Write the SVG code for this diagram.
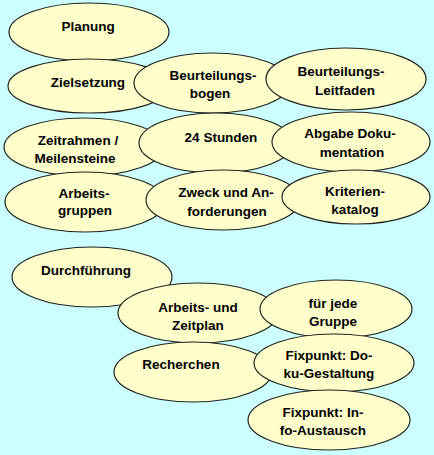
<svg xmlns="http://www.w3.org/2000/svg" width="434" height="455" viewBox="0 0 434 455">
<style>
.bg{fill:#ccffff}
ellipse{fill:#ffffcc;stroke:#222;stroke-width:1.2}
text{font-family:"Liberation Sans",Arial,sans-serif;font-weight:bold;font-size:13.5px;fill:#000;text-anchor:middle}
</style>
<rect class="bg" x="0" y="0" width="434" height="455"/>
<g id="n-planung"><ellipse cx="89" cy="32" rx="80" ry="29"/><text x="88" y="31">Planung</text></g>
<g id="n-zielsetzung"><ellipse cx="89" cy="86" rx="81" ry="27"/><text x="88" y="87">Zielsetzung</text></g>
<g id="n-bogen"><ellipse cx="212" cy="83" rx="78" ry="30"/><text x="213" y="80">Beurteilungs-</text><text x="210" y="98">bogen</text></g>
<g id="n-leitfaden"><ellipse cx="346" cy="79" rx="80" ry="31"/><text x="341" y="76">Beurteilungs-</text><text x="345" y="95">Leitfaden</text></g>
<g id="n-zeitrahmen"><ellipse cx="84" cy="147" rx="80" ry="29"/><text x="78" y="145">Zeitrahmen /</text><text x="75" y="163">Meilensteine</text></g>
<g id="n-24stunden"><ellipse cx="216" cy="143" rx="77" ry="30"/><text x="221" y="142">24 Stunden</text></g>
<g id="n-abgabe"><ellipse cx="351" cy="142" rx="79" ry="30"/><text x="350" y="138">Abgabe Doku-</text><text x="352" y="157">mentation</text></g>
<g id="n-arbeitsgruppen"><ellipse cx="85" cy="202" rx="80" ry="30"/><text x="84" y="198">Arbeits-</text><text x="85" y="215">gruppen</text></g>
<g id="n-zweck"><ellipse cx="223" cy="200" rx="77" ry="30"/><text x="226" y="197">Zweck und An-</text><text x="227" y="216">forderungen</text></g>
<g id="n-kriterien"><ellipse cx="356" cy="197" rx="74" ry="27"/><text x="355" y="196">Kriterien-</text><text x="355" y="214">katalog</text></g>
<g id="n-durchfuehrung"><ellipse cx="92" cy="277" rx="80" ry="30"/><text x="86" y="275">Durchführung</text></g>
<g id="n-zeitplan"><ellipse cx="198" cy="313" rx="80" ry="30"/><text x="198" y="312">Arbeits- und</text><text x="198" y="330">Zeitplan</text></g>
<g id="n-gruppe"><ellipse cx="336" cy="309" rx="76" ry="29"/><text x="333" y="308">für jede</text><text x="333" y="326">Gruppe</text></g>
<g id="n-recherchen"><ellipse cx="193" cy="372" rx="79" ry="30"/><text x="181" y="369">Recherchen</text></g>
<g id="n-doku"><ellipse cx="334" cy="363" rx="80" ry="29"/><text x="329" y="360">Fixpunkt: Do-</text><text x="329" y="378">ku-Gestaltung</text></g>
<g id="n-info"><ellipse cx="329" cy="420" rx="81" ry="30"/><text x="323" y="417">Fixpunkt: In-</text><text x="323" y="435">fo-Austausch</text></g>
</svg>
